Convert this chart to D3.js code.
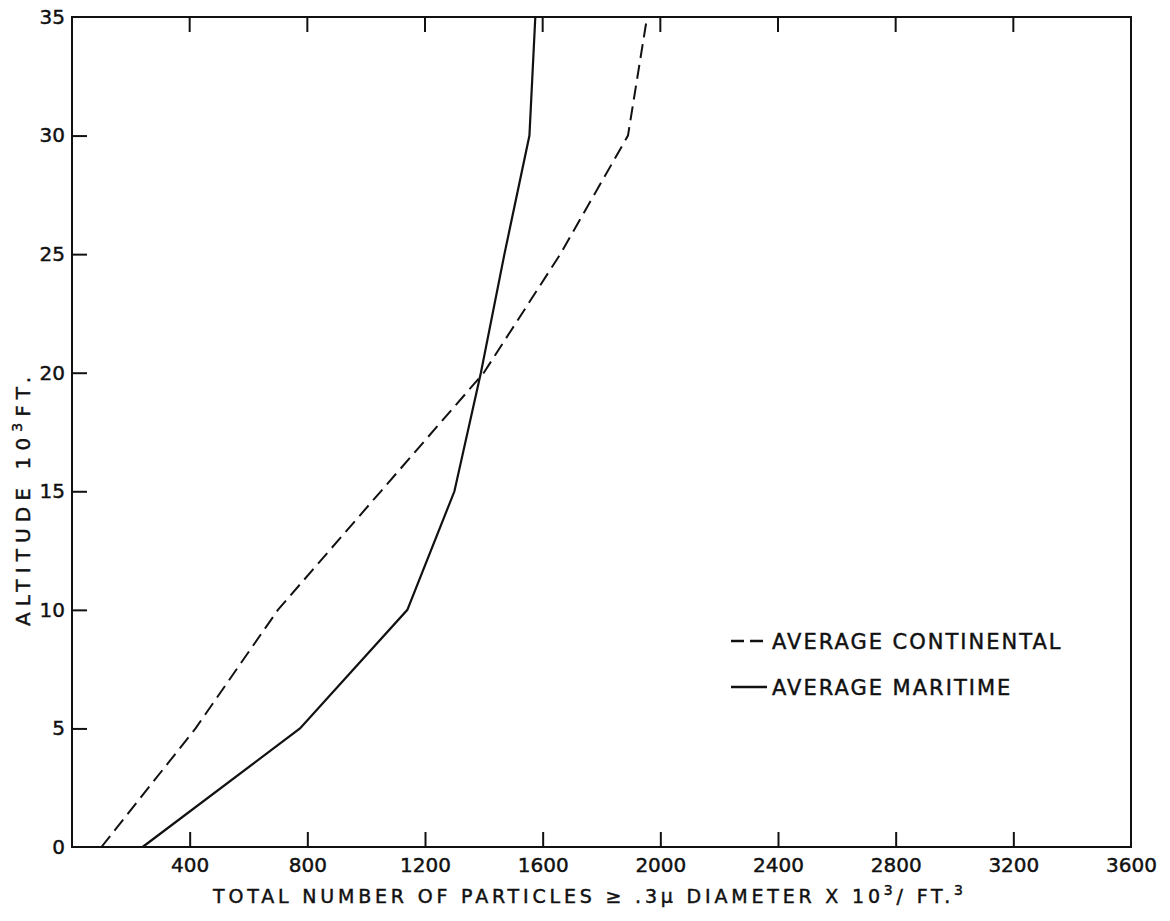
<!DOCTYPE html>
<html>
<head>
<meta charset="utf-8">
<script src="https://cdn.jsdelivr.net/npm/d3@7/dist/d3.min.js"></script>
<style>
  html, body { margin: 0; padding: 0; background: #fff; }
  svg { display: block; }
  text { font-family: "DejaVu Sans", sans-serif; fill: #111; stroke: #111; stroke-width: 0.45px; }
</style>
</head>
<body>
<svg id="chart" width="1170" height="921"></svg>
<script>
// Altitude levels (thousands of feet)
const altitudes = [0, 5, 10, 15, 20, 25, 30, 35];
// Total particles >= 0.3 micron diameter, x 10^3 per cubic foot
const continental = [100, 420, 700, 1050, 1400, 1660, 1890, 1955];
const maritime = [240, 775, 1140, 1300, 1390, 1470, 1555, 1575];

const xTicks = [400, 800, 1200, 1600, 2000, 2400, 2800, 3200, 3600];
const yTicks = [0, 5, 10, 15, 20, 25, 30, 35];

const legendItems = [
  { label: "AVERAGE CONTINENTAL", dash: "13,6" },
  { label: "AVERAGE MARITIME", dash: null }
];

(function draw() {
  const svg = d3.select("#chart");
  const plotL = 72, plotR = 1131, plotT = 17, plotB = 847;

  const x = d3.scaleLinear().domain([0, 3600]).range([plotL, plotR]);
  const y = d3.scaleLinear().domain([0, 35]).range([plotB, plotT]);

  const ink = "#111";

  // Frame
  svg.append("rect")
    .attr("x", plotL).attr("y", plotT)
    .attr("width", plotR - plotL).attr("height", plotB - plotT)
    .attr("fill", "none").attr("stroke", ink).attr("stroke-width", 2);

  // Bottom axis: inward ticks, labels below
  const xAxisB = d3.axisBottom(x).tickValues(xTicks).tickSize(0).tickPadding(0)
    .tickFormat(d3.format("d"));
  const gB = svg.append("g").attr("transform", `translate(0,${plotB})`).call(xAxisB);
  gB.select(".domain").remove();
  gB.selectAll("text").attr("font-size", 20).attr("dy", "1.25em")
    .attr("font-family", "DejaVu Sans, sans-serif").attr("fill", ink);
  gB.selectAll(".tick").filter(d => d < 3600).append("line")
    .attr("y1", 0).attr("y2", -15).attr("stroke", ink).attr("stroke-width", 2);

  // Top axis: inward ticks only
  const gT = svg.append("g").attr("transform", `translate(0,${plotT})`);
  gT.selectAll("line").data(xTicks.filter(d => d < 3600)).join("line")
    .attr("x1", d => x(d)).attr("x2", d => x(d))
    .attr("y1", 0).attr("y2", 15).attr("stroke", ink).attr("stroke-width", 2);

  // Left axis: inward ticks, labels to the left
  const yAxisL = d3.axisLeft(y).tickValues(yTicks).tickSize(0).tickPadding(7)
    .tickFormat(d3.format("d"));
  const gL = svg.append("g").attr("transform", `translate(${plotL},0)`).call(yAxisL);
  gL.select(".domain").remove();
  gL.selectAll("text").attr("font-size", 20)
    .attr("font-family", "DejaVu Sans, sans-serif").attr("fill", ink);
  gL.selectAll(".tick").filter(d => d > 0 && d < 35).append("line")
    .attr("x1", 0).attr("x2", 15).attr("stroke", ink).attr("stroke-width", 2);

  // Curves
  const line = d3.line()
    .x(d => x(d[0]))
    .y(d => y(d[1]));

  svg.append("path")
    .datum(continental.map((v, i) => [v, altitudes[i]]))
    .attr("d", line)
    .attr("fill", "none").attr("stroke", ink).attr("stroke-width", 2)
    .attr("stroke-dasharray", "14,7");

  svg.append("path")
    .datum(maritime.map((v, i) => [v, altitudes[i]]))
    .attr("d", line)
    .attr("fill", "none").attr("stroke", ink).attr("stroke-width", 2.2);

  // Legend
  const lg = svg.append("g").attr("transform", "translate(731,0)");
  legendItems.forEach((item, i) => {
    const cy = 641 + i * 46;
    lg.append("line")
      .attr("x1", 0).attr("x2", 36).attr("y1", cy).attr("y2", cy)
      .attr("stroke", ink).attr("stroke-width", 2.4)
      .attr("stroke-dasharray", item.dash);
    lg.append("text")
      .attr("x", 41).attr("y", cy + 8)
      .attr("font-size", 21).attr("letter-spacing", 2)
      .text(item.label);
  });

  // Axis titles
  const xt = svg.append("text")
    .attr("x", 213).attr("y", 903)
    .attr("font-size", 19)
    .attr("textLength", 750).attr("lengthAdjust", "spacing");
  xt.append("tspan").text("TOTAL  NUMBER  OF  PARTICLES  \u2265  .3\u03bc DIAMETER  X  10");
  xt.append("tspan").attr("dy", -8).attr("font-size", 14).text("3");
  xt.append("tspan").attr("dy", 8).text("/ FT.");
  xt.append("tspan").attr("dy", -8).attr("font-size", 14).text("3");

  const yt = svg.append("text")
    .attr("transform", "translate(30,626) rotate(-90)")
    .attr("font-size", 20)
    .attr("textLength", 249).attr("lengthAdjust", "spacing");
  yt.append("tspan").text("ALTITUDE  10");
  yt.append("tspan").attr("dy", -8).attr("font-size", 14).text("3");
  yt.append("tspan").attr("dy", 8).text("FT.");
})();
</script>
</body>
</html>
